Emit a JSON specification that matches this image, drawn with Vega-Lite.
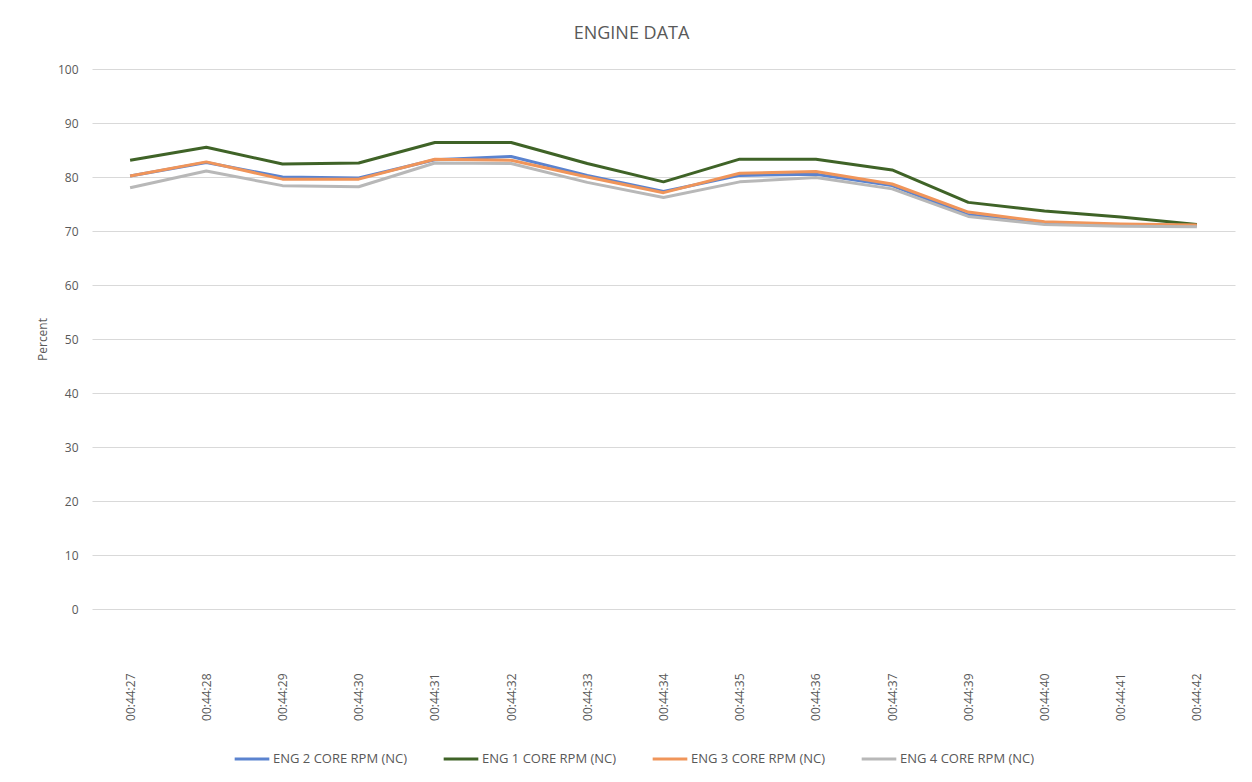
{
  "$schema": "https://vega.github.io/schema/vega-lite/v6.json",
  "width": 1143,
  "height": 540,
  "autosize": {"type": "none"},
  "padding": {"left": 92, "top": 69, "right": 17, "bottom": 173},
  "background": "white",
  "title": {
    "text": "ENGINE DATA",
    "fontSize": 18,
    "font": "Open Sans",
    "fontWeight": "normal",
    "color": "#595959",
    "offset": 20,
    "dx": -32
  },
  "data": {
    "values": [
      {"t": "00:44:27", "s": "ENG 2 CORE RPM (NC)", "v": 80.2},
      {"t": "00:44:28", "s": "ENG 2 CORE RPM (NC)", "v": 82.7},
      {"t": "00:44:29", "s": "ENG 2 CORE RPM (NC)", "v": 80.0},
      {"t": "00:44:30", "s": "ENG 2 CORE RPM (NC)", "v": 79.8},
      {"t": "00:44:31", "s": "ENG 2 CORE RPM (NC)", "v": 83.2},
      {"t": "00:44:32", "s": "ENG 2 CORE RPM (NC)", "v": 83.8},
      {"t": "00:44:33", "s": "ENG 2 CORE RPM (NC)", "v": 80.3},
      {"t": "00:44:34", "s": "ENG 2 CORE RPM (NC)", "v": 77.3},
      {"t": "00:44:35", "s": "ENG 2 CORE RPM (NC)", "v": 80.3},
      {"t": "00:44:36", "s": "ENG 2 CORE RPM (NC)", "v": 80.5},
      {"t": "00:44:37", "s": "ENG 2 CORE RPM (NC)", "v": 78.4},
      {"t": "00:44:39", "s": "ENG 2 CORE RPM (NC)", "v": 73.0},
      {"t": "00:44:40", "s": "ENG 2 CORE RPM (NC)", "v": 71.5},
      {"t": "00:44:41", "s": "ENG 2 CORE RPM (NC)", "v": 71.1},
      {"t": "00:44:42", "s": "ENG 2 CORE RPM (NC)", "v": 71.0},
      {"t": "00:44:27", "s": "ENG 1 CORE RPM (NC)", "v": 83.1},
      {"t": "00:44:28", "s": "ENG 1 CORE RPM (NC)", "v": 85.5},
      {"t": "00:44:29", "s": "ENG 1 CORE RPM (NC)", "v": 82.4},
      {"t": "00:44:30", "s": "ENG 1 CORE RPM (NC)", "v": 82.6},
      {"t": "00:44:31", "s": "ENG 1 CORE RPM (NC)", "v": 86.4},
      {"t": "00:44:32", "s": "ENG 1 CORE RPM (NC)", "v": 86.4},
      {"t": "00:44:33", "s": "ENG 1 CORE RPM (NC)", "v": 82.5},
      {"t": "00:44:34", "s": "ENG 1 CORE RPM (NC)", "v": 79.1},
      {"t": "00:44:35", "s": "ENG 1 CORE RPM (NC)", "v": 83.3},
      {"t": "00:44:36", "s": "ENG 1 CORE RPM (NC)", "v": 83.3},
      {"t": "00:44:37", "s": "ENG 1 CORE RPM (NC)", "v": 81.3},
      {"t": "00:44:39", "s": "ENG 1 CORE RPM (NC)", "v": 75.3},
      {"t": "00:44:40", "s": "ENG 1 CORE RPM (NC)", "v": 73.7},
      {"t": "00:44:41", "s": "ENG 1 CORE RPM (NC)", "v": 72.6},
      {"t": "00:44:42", "s": "ENG 1 CORE RPM (NC)", "v": 71.2},
      {"t": "00:44:27", "s": "ENG 3 CORE RPM (NC)", "v": 80.2},
      {"t": "00:44:28", "s": "ENG 3 CORE RPM (NC)", "v": 82.8},
      {"t": "00:44:29", "s": "ENG 3 CORE RPM (NC)", "v": 79.6},
      {"t": "00:44:30", "s": "ENG 3 CORE RPM (NC)", "v": 79.6},
      {"t": "00:44:31", "s": "ENG 3 CORE RPM (NC)", "v": 83.3},
      {"t": "00:44:32", "s": "ENG 3 CORE RPM (NC)", "v": 83.1},
      {"t": "00:44:33", "s": "ENG 3 CORE RPM (NC)", "v": 80.0},
      {"t": "00:44:34", "s": "ENG 3 CORE RPM (NC)", "v": 77.1},
      {"t": "00:44:35", "s": "ENG 3 CORE RPM (NC)", "v": 80.7},
      {"t": "00:44:36", "s": "ENG 3 CORE RPM (NC)", "v": 81.0},
      {"t": "00:44:37", "s": "ENG 3 CORE RPM (NC)", "v": 78.7},
      {"t": "00:44:39", "s": "ENG 3 CORE RPM (NC)", "v": 73.5},
      {"t": "00:44:40", "s": "ENG 3 CORE RPM (NC)", "v": 71.7},
      {"t": "00:44:41", "s": "ENG 3 CORE RPM (NC)", "v": 71.3},
      {"t": "00:44:42", "s": "ENG 3 CORE RPM (NC)", "v": 71.1},
      {"t": "00:44:27", "s": "ENG 4 CORE RPM (NC)", "v": 78.0},
      {"t": "00:44:28", "s": "ENG 4 CORE RPM (NC)", "v": 81.1},
      {"t": "00:44:29", "s": "ENG 4 CORE RPM (NC)", "v": 78.4},
      {"t": "00:44:30", "s": "ENG 4 CORE RPM (NC)", "v": 78.2},
      {"t": "00:44:31", "s": "ENG 4 CORE RPM (NC)", "v": 82.6},
      {"t": "00:44:32", "s": "ENG 4 CORE RPM (NC)", "v": 82.5},
      {"t": "00:44:33", "s": "ENG 4 CORE RPM (NC)", "v": 79.0},
      {"t": "00:44:34", "s": "ENG 4 CORE RPM (NC)", "v": 76.2},
      {"t": "00:44:35", "s": "ENG 4 CORE RPM (NC)", "v": 79.1},
      {"t": "00:44:36", "s": "ENG 4 CORE RPM (NC)", "v": 79.9},
      {"t": "00:44:37", "s": "ENG 4 CORE RPM (NC)", "v": 77.8},
      {"t": "00:44:39", "s": "ENG 4 CORE RPM (NC)", "v": 72.7},
      {"t": "00:44:40", "s": "ENG 4 CORE RPM (NC)", "v": 71.2},
      {"t": "00:44:41", "s": "ENG 4 CORE RPM (NC)", "v": 70.9},
      {"t": "00:44:42", "s": "ENG 4 CORE RPM (NC)", "v": 70.8}
    ]
  },
  "mark": {"type": "line", "strokeWidth": 3, "strokeJoin": "round"},
  "encoding": {
    "x": {
      "field": "t",
      "type": "ordinal",
      "sort": null,
      "scale": {"type": "point", "padding": 0.5},
      "axis": {
        "title": null,
        "labelAngle": -90,
        "labelPadding": 64,
        "labelFontSize": 12,
        "labelFont": "Open Sans",
        "labelColor": "#595959",
        "domain": false,
        "ticks": false,
        "grid": false
      }
    },
    "y": {
      "field": "v",
      "type": "quantitative",
      "scale": {"domain": [0, 100], "nice": false, "zero": true},
      "axis": {
        "title": "Percent",
        "titleFontSize": 12,
        "titleFont": "Open Sans",
        "titleFontWeight": "normal",
        "titleColor": "#595959",
        "titlePadding": 8,
        "values": [0, 10, 20, 30, 40, 50, 60, 70, 80, 90, 100],
        "labelFontSize": 12,
        "labelFont": "Open Sans",
        "labelColor": "#595959",
        "labelPadding": 14,
        "domain": false,
        "ticks": false,
        "grid": true,
        "gridColor": "#D9D9D9",
        "gridWidth": 1
      }
    },
    "color": {
      "field": "s",
      "type": "nominal",
      "scale": {
        "domain": ["ENG 2 CORE RPM (NC)", "ENG 1 CORE RPM (NC)", "ENG 3 CORE RPM (NC)", "ENG 4 CORE RPM (NC)"],
        "range": ["#5B83CF", "#3F6327", "#F0955A", "#B8B8B8"]
      },
      "legend": {
        "title": null,
        "orient": "none",
        "direction": "horizontal",
        "legendX": 141,
        "legendY": 671,
        "symbolType": "stroke",
        "symbolSize": 1200,
        "symbolStrokeWidth": 3,
        "labelFontSize": 13,
        "labelFont": "Open Sans",
        "labelColor": "#595959",
        "labelOffset": 2,
        "columnPadding": 29
      }
    }
  },
  "config": {
    "view": {"stroke": null}
  }
}
